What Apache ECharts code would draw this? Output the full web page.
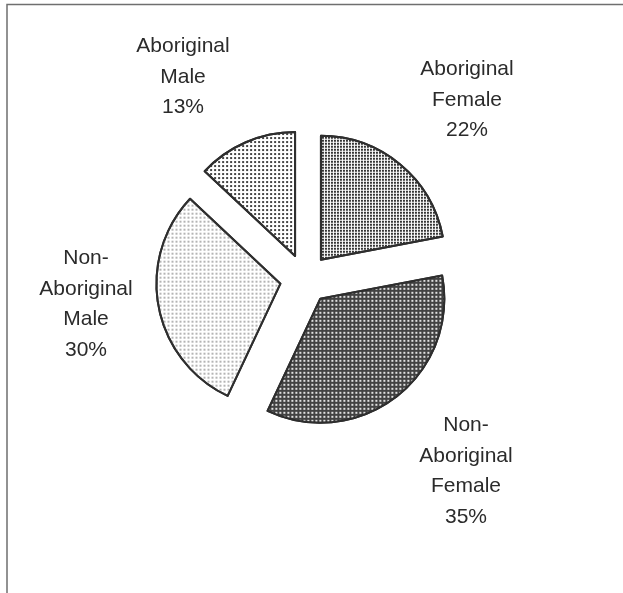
<!DOCTYPE html>
<html>
<head>
<meta charset="utf-8">
<script src="https://cdn.jsdelivr.net/npm/echarts@6/dist/echarts.min.js"></script>
<style>
  html, body { margin: 0; padding: 0; background: #fff; }
  #chart { width: 623px; height: 593px; }
</style>
</head>
<body>
<div id="chart"></div>
<script>
// slices, clockwise from 12 o'clock
const categories = ['Aboriginal\nFemale', 'Non-\nAboriginal\nFemale', 'Non-\nAboriginal\nMale', 'Aboriginal\nMale']
const shares = [22, 35, 30, 13]

// label block centres (px)
const labelPos = [[467, 100], [466, 471], [86, 304], [183, 77]]

// dotted fills, roughly like the scanned screen tones
const fills = [
  { color: '#ffffff', decal: { symbol: 'rect', color: '#333333', dashArrayX: [2, 1], dashArrayY: [2, 1], symbolSize: 1 } },
  { color: '#424242', decal: { symbol: 'rect', color: '#e0e0e0', dashArrayX: [2, 2], dashArrayY: [2, 2], symbolSize: 1 } },
  { color: '#ffffff', decal: { symbol: 'rect', color: '#b4b4b4', dashArrayX: [2, 2], dashArrayY: [2, 2], symbolSize: 1 } },
  { color: '#ffffff', decal: { symbol: 'rect', color: '#444444', dashArrayX: [2, 2], dashArrayY: [2, 2], symbolSize: 1 } }
]

const center = [305, 279]
const radius = 124

const chart = echarts.init(document.getElementById('chart'))
chart.setOption({
  animation: false,
  graphic: [
    {
      type: 'polyline',
      shape: { points: [[7, 593], [7, 4.5], [623, 4.5]] },
      style: { stroke: '#6f6f6f', lineWidth: 1.5, fill: null },
      silent: true
    }
  ],
  series: [
    {
      // exploded slices
      type: 'pie',
      center: center,
      radius: radius,
      startAngle: 90,
      clockwise: true,
      selectedMode: 'multiple',
      selectedOffset: 25,
      itemStyle: {
        borderColor: '#2e2e2e',
        borderWidth: 2
      },
      label: { show: false },
      labelLine: { show: false },
      emphasis: { disabled: true },
      data: categories.map((name, i) => ({
        name: name,
        value: shares[i],
        selected: true,
        itemStyle: fills[i]
      }))
    },
    {
      // same data, invisible, only carries the labels
      type: 'pie',
      center: center,
      radius: radius,
      startAngle: 90,
      clockwise: true,
      silent: true,
      avoidLabelOverlap: false,
      itemStyle: { color: 'rgba(0,0,0,0)', borderWidth: 0 },
      label: {
        show: true,
        position: 'outside',
        formatter: '{b}\n{d}%',
        fontFamily: 'Liberation Sans',
        fontSize: 21,
        lineHeight: 30.5,
        color: '#2b2b2b',
        align: 'center'
      },
      labelLine: { show: false },
      labelLayout: function (params) {
        const p = labelPos[params.dataIndex]
        return { x: p[0], y: p[1], align: 'center', verticalAlign: 'middle' }
      },
      emphasis: { disabled: true },
      data: categories.map((name, i) => ({ name: name, value: shares[i] }))
    }
  ]
})
</script>
</body>
</html>
